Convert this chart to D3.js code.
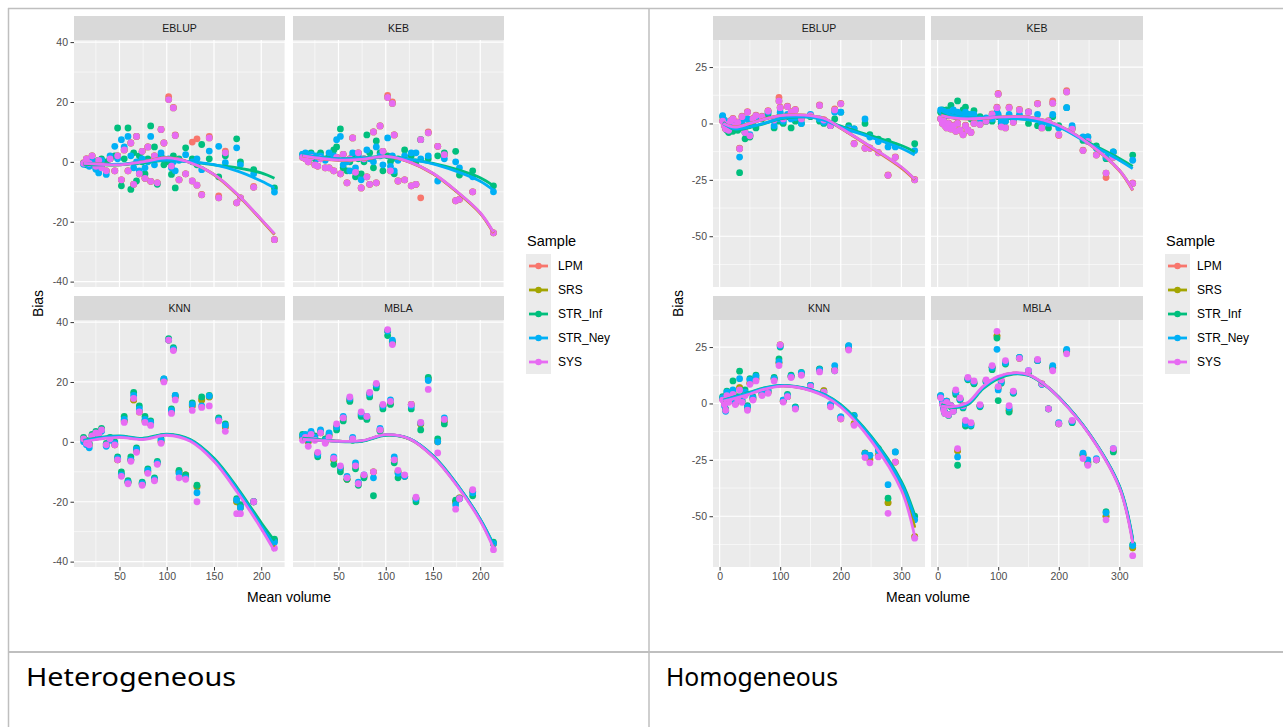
<!DOCTYPE html>
<html>
<head>
<meta charset="utf-8">
<script src="https://cdn.jsdelivr.net/npm/d3@7"></script>
<style>
  html, body { margin: 0; padding: 0; background: #ffffff; }
  svg { display: block; }
</style>
</head>
<body>
<div id="chart"></div>
<script>
// ---- data ----------------------------------------------------------------
const SAMPLES = ['LPM', 'SRS', 'STR_Inf', 'STR_Ney', 'SYS'];
const SAMPLE_COLORS = ['#F8766D', '#A3A500', '#00BF7D', '#00B0F6', '#E76BF3'];
const METHODS = ['EBLUP', 'KEB', 'KNN', 'MBLA'];
const CAPTIONS = ['Heterogeneous', 'Homogeneous'];

// Heterogeneous population: mean volume of each area
const HET_VOLUME = [12, 15, 18, 21, 25, 28, 31, 36, 40, 45, 48, 52, 55, 59, 62, 65, 68, 71, 74, 77, 80,
  83, 87, 90, 94, 97, 102, 105, 107, 109, 113, 120, 127, 132, 137, 145, 155, 162, 174, 178, 192, 214];
// bias per area, columns: LPM, SRS, STR_Inf, STR_Ney, SYS
const HET_EBLUP = [
  [-0.3, -0.4, -0.5, -0.8, -0.5], [1, 1, -1, 0, 1], [-0.3, -0.4, 0, -1.5, -0.5], [2, 2, 1, 0.5, 2],
  [-1.3, -1.4, -2, -2.5, -1.5], [0.5, 0.5, 0.5, -3.7, 0.5], [-1.8, -1.9, 1, 0.5, -2], [-3, -3, 0, -4.2, -3],
  [1, 1, 1, 2, 1], [-3, -3, 2, 5.2, -3], [2, 2, 11.3, 1, 2], [-6, -6, -8, 7.4, -6],
  [4, 4, 1, 5, 4], [-3, -3, 11.3, 8.5, -3], [6.3, 6.3, -9.2, 2, 6.3], [-7.5, -7.5, 3, -2, -7.5],
  [8.5, 8.5, -6.4, 0, 8.5], [-4, -4, 2, -3, -4], [3.5, 3.5, 0, 1, 3.5], [-5.5, -5.5, -4, -2, -5.5],
  [5, 5, 1, 0, 5], [-6.5, -6.5, 12, 8.5, -6.5], [2, 2, 5, -1, 2], [-7, -7, -7.5, 1, -7],
  [10.8, 10.8, 2, 3, 10.8], [6.3, 6.3, -1, 1, 6.3], [21.8, 20.8, 0, 1, 20.8], [-1.4, -1.4, -4.2, -2, -1.4],
  [18.2, 18, 2, 0, 18], [9, 8.8, -8.7, -3, 8.8], [-6, -6, 1, 0.5, -6], [-4, -4, 4.7, 2.4, -4],
  [6.6, -6.4, 1, 0, -6.4], [7.7, -7.8, -1, 1, -7.8], [-10.9, -11, 5.8, -2.6, -11], [8.5, 8, 1, 3.6, 8],
  [-11.4, -12, -5, 5.2, -12], [3.6, 3, 2, -0.3, 3], [-13.7, -13.7, 7.7, 4.7, -13.7], [-12, -12, 0, -1, -12],
  [-8.2, -8.5, -2.6, -4, -8.5], [-26, -26, -8.7, -10.1, -26]
];
const HET_KEB = [
  [1.5, 1.5, 2.5, 2.5, 1.5], [1, 1, 2, 3, 1], [0, 0, 2, 2, 0], [1.5, 1.5, 3, 2.5, 1.5],
  [-1, -1, 1, 2, -1], [-1.4, -1.4, 2, 1, -1.4], [1, 1, 3, 2, 1], [-2, -2, 1, 0.5, -2],
  [-2, -2, 2, 3, -2], [-3, -3, 4, 2, -3], [1.5, 1.5, 5, 7.4, 1.5], [-4, -4, 11, 8.5, -4],
  [2.5, 2.5, -2, -1, 2.5], [-7, -7, -3, 0, -7], [1, 1, 0, -3, 1], [8, 8, 2, 3, 8],
  [-3.5, -3.5, -5, -2, -3.5], [3, 3, 1, 2, 3], [-8.7, -8.7, -4, -6, -8.7], [1, 1, 0, 1, 1],
  [-5, -5, 9, 4, -5], [-7.5, -7.5, 3, 1, -7.5], [10, 10, -2, 0, 10], [-7, -7, 7, 5, -7],
  [12, 12, 3, 2, 12], [3.5, 3.5, -3, -1, 3.5], [22.2, 21.5, 2, 8, 21.5], [-3, -3, 0, -1.5, -3],
  [20, 19.5, 1, 2, 19.5], [9, 9, -4, -3, 9], [-6.4, -6.4, 1, 0.5, -6.4], [-6, -6, 4, 2, -6],
  [-8, -8, 2, 3, -8], [-7.5, -7.5, 0, 3, -7.5], [-12, 7.4, 7.4, 1, 7.4], [10, 9.7, 1, 2, 9.7],
  [5.2, 5.2, 2, -6.4, 5.2], [2.4, 2.4, 3, 1, 2.4], [-13, -13, 3.5, 0, -13], [-12.5, -12.5, -4.4, -2, -12.5],
  [-10, -10, -3, -5, -10], [-23.7, -23.7, -8, -10, -23.7]
];
const HET_KNN = [
  [1, 1, 1.5, 0, 1], [0, 0, 0.5, -1, -0.5], [-1, -1, -0.5, -2, -1], [2, 2, 2.5, 1.5, 2],
  [3, 3, 3.5, 2.5, 3], [2.5, 2.5, 3, 2, 2.5], [4, 4, 4.5, 3.5, 4], [-1, -1, -0.5, -1.5, -1],
  [1, 1, 1.5, 0.5, 1], [-1, -1, 0, -0.5, -1], [-6, -6, -5, -5.5, -6], [-11, -11, -10, -11, -11.5],
  [7, 7, 8.5, 7.5, 6.5], [-13.5, -13.5, -13, -13.5, -14], [-6, -6, -5, -6, -6.5], [14, 14, 16.5, 15.5, 14.5],
  [-3, -3, -2, -2.5, -3.5], [10, 10, 12, 11, 10], [-14, -14, -13.5, -14, -14.5], [7, 7, 8.5, 7.5, 6.5],
  [-10, -10, -9, -9.5, -10.5], [6, 6, 7, 6.5, 5.5], [-12.5, -12.5, -12, -12.5, -13], [-7, -7, -6.5, -7, -7.5],
  [0, 0, 1, 0.5, -0.5], [20.5, 20.5, 21, 21, 20], [34, 34, 34.5, 34, 34], [10, 10, 11, 10.5, 9.5],
  [31, 31, 31.5, 31, 30.5], [15, 15, 15.5, 15.5, 14], [-10, -10, -9.5, -10.5, -12], [-11, -11, -11, -12, -12.5],
  [12, 12, 13, 12.5, 10.5], [-15, -15, -14.5, -17, -20], [14, 14, 15, 12, 11.5], [15, 15, 15.5, 15.3, 12],
  [7.5, 7.5, 8, 7.5, 7], [5, 5, 6, 5.5, 3.5], [-20, -20, -19, -19.5, -24], [-22, -22, -21, -22, -24],
  [-20, -20, -20, -20, -20], [-33, -33, -32.5, -33.5, -35.5]
];
const HET_MBLA = [
  [1.5, 1.5, 2.5, 2, 0.5], [2, 2, 1.5, 2.5, 1.5], [0, 0, 0.5, 1, -1.5], [2.5, 2.5, 3, 3.5, 2.5],
  [1, 1, 2, 1.5, 0.5], [-4, -4, -5, -4.2, -3.5], [3, 3, 3.5, 4, 3], [0, 0, 1, 0.5, -0.5],
  [2, 2, 2.5, 3, 1.5], [-6, -6, -7.5, -5, -5.5], [5, 5, 4, 5, 6], [-9, -9, -10, -8.5, -8],
  [8, 8, 7, 8.5, 8], [-12.5, -12.5, -12.5, -11.5, -12], [14, 14, 13.5, 14.5, 15], [1, 1, 0.5, 1.5, 1],
  [-8, -8, -9, -7, -8], [-14, -14, -14.5, -13.5, -14], [9, 9, 8.5, 9.5, 10], [-11.5, -11.5, -12, -11, -11],
  [8, 8, 7.5, 8.5, 8.5], [16, 16, 15, 16, 16.5], [-10, -10, -18, -12, -10], [19, 19, 18, 19, 19.5],
  [4, 4, 3.5, 4.5, 4], [12, 12, 11, 12, 12.5], [37, 37, 35.5, 37, 37.5], [13, 13, 12.5, 14, 13.5],
  [33, 33, 33.5, 34, 32.5], [-6, -6, -7, -5, -6], [-10, -10, -12, -10.5, -9.5], [-11.5, -11.5, -11.5, -11.5, -11],
  [12.5, 12.5, 11, 12, 12.5], [-19, -19, -20, -19, -18.5], [6, 6, 4, 6.3, 6.5], [21, 21, 21.5, 20.5, 17.5],
  [0, 0, 1, 0, -3.7], [7, 7, 6, 8, 7.5], [-20, -20, -19.5, -21, -22.5], [-18.7, -18.7, -19, -19, -19],
  [-16.5, -16.5, -18, -17, -16], [-34, -34, -33.5, -34, -36]
];
// smoothed trend (loess) read at these volumes, one row per sample
const HET_SMOOTH_VOLUME = [12, 30, 50, 75, 100, 125, 150, 175, 200, 214];
const HET_SMOOTH_EBLUP = [
  [-0.4, -0.7, -0.9, 0.1, 1.4, -0.2, -4.3, -11.1, -19.4, -24.3],
  [-0.5, -0.8, -1, 0, 1.3, -0.3, -4.2, -11, -19.3, -24.2],
  [-0.8, -1, -1, -0.3, 0.5, 0, -1, -2, -3.7, -5.5],
  [-0.5, -0.8, -0.8, 0, 0.6, 0, -0.9, -3.1, -6.4, -8.7],
  [-0.5, -0.8, -1, 0, 1.3, -0.3, -4.2, -10.9, -19.2, -24]
];
const HET_SMOOTH_KEB = [
  [2.1, 1.1, 0.5, 0.8, 1.8, -0.1, -4, -10, -17.2, -23.8],
  [2, 1.2, 0.6, 0.8, 1.7, 0, -3.9, -9.9, -17.1, -23.6],
  [2.4, 1.5, 1, 1.3, 1.8, 0.9, -0.5, -2.5, -5.3, -8],
  [2.4, 1.5, 1, 1.2, 1.7, 0.8, -0.7, -3.2, -6.5, -9.5],
  [2, 1.2, 0.6, 0.8, 1.8, 0, -3.8, -9.8, -17, -23.5]
];
const HET_SMOOTH_KNN = [
  [0.2, 1.2, 1.7, 1, 2.4, 0.5, -6.2, -16.5, -28.5, -35],
  [0.2, 1.2, 1.7, 1, 2.4, 0.5, -6.2, -16.4, -28.4, -35],
  [0.5, 1.5, 2, 1.2, 2.6, 0.8, -5.5, -15.5, -27, -33],
  [0.3, 1.3, 1.8, 1, 2.4, 0.5, -6, -16, -28, -34.5],
  [0, 1, 1.5, 0.8, 2.2, 0.2, -6.5, -17, -29, -36.5]
];
const HET_SMOOTH_MBLA = [
  [1, 0.6, 0.2, 0.3, 2.3, 1, -4.8, -14.2, -26, -34.8],
  [1, 0.6, 0.2, 0.3, 2.3, 1, -4.8, -14.2, -26, -34.8],
  [1.2, 0.7, 0.1, 0.2, 2.2, 1, -4.6, -14, -25.8, -34.2],
  [1, 0.6, 0.2, 0.3, 2.3, 1.1, -4.7, -14.1, -25.9, -34.5],
  [0.8, 0.5, 0.2, 0.4, 2.4, 1, -5, -14.5, -26.4, -35.5]
];

// Homogeneous population
const HOM_VOLUME = [5, 8, 10, 12, 15, 18, 22, 26, 30, 33, 37, 42, 46, 50, 55, 60, 70, 80, 90, 98,
  100, 105, 112, 118, 125, 135, 150, 165, 172, 183, 190, 200, 213, 222, 240, 248, 262, 278, 290, 322];
const HOM_EBLUP = [
  [1.2, 1, 3, 3.5, 1], [-0.8, -1, 1, 1.5, -1], [-2.3, -2.5, -2, -1, -2.5], [-0.3, -0.5, -3, 0, -0.5],
  [-2.8, -3, -4, -2, -3], [1.2, 1, -1, -0.5, 1], [2.2, 2, -3.5, 0, 2], [-0.8, -1, -2.5, -1.5, -1],
  [0.7, 0.5, -3, -1, 0.5], [-11, -11.2, -21.8, -14.9, -11.2], [3.2, 3, -1, 1, 3], [-3.8, -4, -6.8, -4, -4],
  [5.2, 5, -1, 2, 5], [-5.3, -5.5, -6, -5, -5.5], [2.2, 2, 0, 1, 2], [3.7, 3.5, -2, 2, 3.5],
  [3.2, 3, 2, 2.5, 3], [5.7, 5.5, 4, 5, 5.5], [1.7, 1.5, -2, -1, 1.5], [11.5, 10, 1, 2, 10],
  [7.2, 7, 4, 5, 7], [2.2, 2, 0, 1, 2], [7.7, 7.5, 3, 4, 7.5], [5.2, 5, -2, 2, 5],
  [6.2, 6, 1, 2.5, 6], [2.2, 2, 0, 0, 2], [3.7, 3.5, 3, 4, 3.5], [8.2, 8, 1, 2, 8],
  [1.7, 1.5, 0, 0.5, 1.5], [-0.8, -1, -1, 0, -1], [6.5, 6, 2, 5, 6], [8.9, 8.7, 5, 5, 8.7],
  [-3.2, -3, -1, -2, -3], [-8.8, -9, -2.4, -2.4, -9], [-10.8, -11, 0, 2, -11], [-10.8, -11, -5, -6, -11],
  [-12.8, -13, -7, -8, -13], [-22.8, -23, -8, -10.4, -23], [-14.8, -15, -10, -10.4, -15], [-24.8, -25, -9, -12, -25]
];
const HOM_KEB = [
  [2.2, 2, 5, 6, 2], [0.2, 0, 6, 5, 0], [1.2, 1, 4, 5.5, 1], [-0.8, -1, 5, 4, -1],
  [-1.8, -2, 6, 3.5, -2], [0.2, 0, 4, 5, 0], [-2.3, -2.5, 8, 4, -2.5], [-0.8, -1, 5, 6, -1],
  [-3.3, -3.5, 4, 3, -3.5], [0.2, 0, 10, 5, 0], [-2.8, -3, 3, 4, -3], [-4.8, -5, 6, 3, -5],
  [-0.8, -1, 7.2, 5, -1], [-2.8, -3, 4, 3.5, -3], [-3.8, -4, 2, 4, -4], [0.2, 0, 5.7, 4, 0],
  [-0.3, -0.5, 3, 2, -0.5], [1.2, 1, 1, 2.5, 1], [4.2, 4, 1, 2, 4], [7.2, 7, 4, 5, 7],
  [13.3, 13, 3, 4, 13], [-1.3, -1.5, 0, 1, -1.5], [-1.8, -2, 1, 1, -2], [7.2, 7, 3, 4, 7],
  [0.7, 0.5, 2, 2, 0.5], [6.2, 6, 3, 4, 6], [5.2, 5, 0, 5, 5], [8.9, 8.7, -1, 4, 8.7],
  [-1.8, -2, -1.5, 0, -2], [1.2, 1, -2, 0, 1], [10, 9, 3, 4, 9], [-5.3, -5, -1, -2, -5],
  [14.5, 14, 7, 7, 14], [-2.3, -2.5, -2, -1, -2.5], [-11.8, -12, -7.5, -6, -12], [-7.8, -8, -6, -6, -8],
  [-13.8, -14, -10, -11, -14], [-24, -22, -15.6, -15, -22], [-14.8, -15, -12.6, -12.6, -15], [-26.4, -26.6, -14, -16.3, -26.6]
];
const HOM_KNN = [
  [2, 2, 3, 2.5, 1.5], [0, 0, 1, -1, -0.5], [-3, -3, -2.5, -3.5, -3], [4, 4, 5.5, 5, 3.5],
  [1, 1, 2, 1.5, 0.5], [3, 3, 4, 3, 2.5], [5, 5, 10, 6, 4], [0, 0, 1, 0.5, -0.5],
  [2, 2, 3, 2.5, 1.5], [7, 7, 14.3, 11, 6], [1, 1, 2, 1, 0.5], [4, 4, 6, 5, 3.5],
  [-2, -2, -1, -1.5, -3], [9, 9, 11, 10.5, 8.5], [2, 2, 3, 2.5, 1.5], [11, 11, 12.5, 12, 10],
  [4, 4, 5, 4.5, 3.5], [5, 5, 6, 5.5, 4.5], [11, 11, 11.5, 11, 10], [18, 18, 19.7, 18.5, 16.8],
  [26, 26, 25, 25.5, 26], [1, 1, 1.5, 1.5, 0.6], [3, 3, 4, 3.5, 3], [12, 12, 12.5, 12, 11.5],
  [-2, -2, -1.5, -2, -2.5], [13, 13, 13.8, 13.5, 12.5], [8, 8, 8, 8, 7.5], [15, 15, 15.3, 15, 14],
  [5.7, 5.7, 5, 5, 5], [-1, -1, -0.5, -0.5, -1.5], [15, 15, 14.5, 16.8, 14.5], [-6.8, -6.8, -6, -6, -6.8],
  [24.5, 24.5, 25.5, 25.6, 23.7], [-9, -9, -5.3, -5.5, -9.7], [-22, -22, -22, -22.2, -24], [-25, -25, -23, -23, -26.3],
  [-23, -23, -20, -21, -23.7], [-44, -44, -42, -36, -48.7], [-26, -26, -21.5, -21.5, -26], [-59, -59, -50, -51.6, -59.7]
];
const HOM_MBLA = [
  [3, 3, 3.5, 3.5, 2.5], [0, 0, 0.5, 1, -0.5], [-2, -2, -2.5, -2, -3], [-4, -4, -4.5, -4, -4.5],
  [1, 1, 0.5, 1, 0.5], [-5, -5, -5.3, -5, -5], [-1, -1, -1.5, -1, -1], [-3, -3, -3.5, -3, -3.5],
  [5, 5, 4, 5, 6], [-21, -21, -27.4, -23.7, -20], [2, 2, 1.5, 2, 2.5], [-1, -1, -2, -1.5, -1],
  [-8, -8, -10, -9, -7.5], [11, 11, 10.5, 11, 11.6], [-9, -9, -10, -9.5, -8.5], [9, 9, 8.7, 9.5, 10],
  [-1, -1, -1.5, -1, -0.5], [10, 10, 9.5, 10, 10.5], [16, 16, 15, 16, 16.8], [30, 30, 29, 24, 32],
  [7, 7, 1.3, 6, 7.5], [10, 10, 9, 9.5, 10.5], [18, 18, 17.5, 18, 19], [-3, -3, -3.8, -2, -1],
  [5, 5, 4.5, 5, 5.5], [20, 20, 20.4, 20.4, 20], [14, 14, 14, 14.5, 14.5], [19, 19, 19, 19, 19.5],
  [8.7, 8.7, 8.5, 8.5, 8.7], [-2.4, -2.4, -2.4, -2.4, -2.4], [16, 16, 15.5, 16.8, 14.5], [-9, -9, -9, -8.5, -9],
  [23, 23, 23.5, 24, 22], [-8, -8, -8.5, -8, -7.5], [-23, -23, -22.5, -22, -24.4], [-26, -26, -27, -25, -27.4],
  [-25, -25, -25, -24.5, -25], [-50, -50, -48, -48.5, -51.6], [-21, -21, -21.5, -20, -20], [-64, -64, -62.6, -63, -67.5]
];
const HOM_SMOOTH_VOLUME = [6, 25, 50, 75, 100, 125, 150, 175, 200, 250, 300, 322];
const HOM_SMOOTH_EBLUP = [
  [0, -1.5, 0, 2, 3.6, 3.8, 3.4, 1.8, -2.2, -10.8, -19.8, -25],
  [0, -1.6, 0, 2, 3.5, 3.8, 3.5, 2, -2, -10.5, -19.5, -24.8],
  [0.5, -2.8, -1.8, 0, 2, 2.8, 2.8, 1.5, -1.2, -5.5, -9.8, -12.5],
  [0, -2.4, -1.5, 0.2, 2.2, 3, 2.8, 1.2, -1.6, -6.2, -11, -14],
  [0, -1.6, 0, 2, 3.5, 3.8, 3.5, 2, -2, -10.4, -19.3, -24.7]
];
const HOM_SMOOTH_KEB = [
  [3.6, 2.5, 2, 2.3, 2.8, 3, 2.8, 1.4, -1, -9.2, -21, -29.8],
  [3.5, 2.5, 2, 2.3, 2.8, 3, 2.8, 1.5, -0.9, -9, -20.7, -29.5],
  [5, 3.5, 2.5, 2.5, 2.8, 2.3, 1.8, 0.5, -1.4, -8.5, -15.5, -19],
  [5.7, 3.5, 2.5, 2.6, 2.8, 2.2, 1.6, 0.3, -1.6, -9, -16.3, -20],
  [3.5, 2.5, 2, 2.3, 2.8, 3, 2.8, 1.5, -0.9, -9, -20.7, -29.5]
];
const HOM_SMOOTH_KNN = [
  [1.2, 2.6, 4.5, 6.6, 7.8, 7.4, 5.9, 3.3, -1.2, -15.8, -37, -55],
  [1.2, 2.6, 4.5, 6.6, 7.8, 7.4, 5.9, 3.3, -1.2, -15.7, -36.8, -55],
  [1.5, 3, 5, 7, 8, 7.6, 6.2, 3.8, -0.5, -14.5, -34.5, -49.5],
  [1.3, 2.8, 4.7, 6.8, 7.9, 7.5, 6, 3.5, -0.9, -15, -35.5, -51],
  [1, 2.3, 4.2, 6.4, 7.6, 7.3, 5.7, 3, -1.6, -16.5, -38.5, -59]
];
const HOM_SMOOTH_MBLA = [
  [-1, -1.6, 0, 7.2, 11.6, 13.4, 12.6, 8.7, 2.8, -13.4, -37, -61],
  [-1, -1.6, 0, 7.2, 11.6, 13.4, 12.6, 8.7, 2.8, -13.4, -37, -61],
  [-0.5, -1.8, -0.5, 6.5, 11, 13, 12.4, 8.6, 2.8, -13.2, -36.5, -60],
  [-1, -1.6, 0, 7, 11.5, 13.3, 12.6, 8.7, 2.8, -13.3, -36.8, -60.5],
  [-1.2, -1.4, 0.5, 7.6, 12, 13.6, 12.8, 8.8, 2.6, -13.6, -37.4, -62]
];

// axis settings
const HET_X_TICKS = [50, 100, 150, 200];
const HET_Y_TICKS = [-40, -20, 0, 20, 40];
const HOM_X_TICKS = [0, 100, 200, 300];
const HOM_Y_TICKS = [-50, -25, 0, 25];

// ---- drawing -------------------------------------------------------------
const WIDTH = 1283;
const HEIGHT = 727;
const FONT = '"Liberation Sans", Arial, sans-serif';

const plots = [
  {
    caption: CAPTIONS[0],
    volume: HET_VOLUME,
    bias: [HET_EBLUP, HET_KEB, HET_KNN, HET_MBLA],
    smoothVolume: HET_SMOOTH_VOLUME,
    smooth: [HET_SMOOTH_EBLUP, HET_SMOOTH_KEB, HET_SMOOTH_KNN, HET_SMOOTH_MBLA],
    xDomain: [1.85, 225.15],
    yDomain: [-41.8, 40.7],
    xTicks: HET_X_TICKS,
    yTicks: HET_Y_TICKS,
    layout: { cols: [[74, 285], [293, 504]], biasX: 38, legendX: 527, captionX: 26, captionW: 210 }
  },
  {
    caption: CAPTIONS[1],
    volume: HOM_VOLUME,
    bias: [HOM_EBLUP, HOM_KEB, HOM_KNN, HOM_MBLA],
    smoothVolume: HOM_SMOOTH_VOLUME,
    smooth: [HOM_SMOOTH_EBLUP, HOM_SMOOTH_KEB, HOM_SMOOTH_KNN, HOM_SMOOTH_MBLA],
    xDomain: [-10.9, 339],
    yDomain: [-72.5, 37],
    xTicks: HOM_X_TICKS,
    yTicks: HOM_Y_TICKS,
    layout: { cols: [[713, 925], [931, 1143]], biasX: 678, legendX: 1166, captionX: 666, captionW: 172 }
  }
];

const ROWS = [[40, 287], [320, 567]];
const STRIP_H = 24;

const svg = d3.select('#chart')
  .append('svg')
  .attr('width', WIDTH)
  .attr('height', HEIGHT)
  .style('font-family', FONT);

// table grid round the two cells
const borderColor = '#BFBFBF';
svg.append('line').attr('x1', 8).attr('x2', WIDTH).attr('y1', 8.5).attr('y2', 8.5)
  .attr('stroke', borderColor).attr('stroke-width', 1.5);
svg.append('line').attr('x1', 8.5).attr('x2', 8.5).attr('y1', 8).attr('y2', HEIGHT)
  .attr('stroke', borderColor).attr('stroke-width', 1.5);
svg.append('line').attr('x1', 649).attr('x2', 649).attr('y1', 8).attr('y2', HEIGHT)
  .attr('stroke', borderColor).attr('stroke-width', 1.5);
svg.append('line').attr('x1', 8).attr('x2', WIDTH).attr('y1', 652).attr('y2', 652)
  .attr('stroke', borderColor).attr('stroke-width', 2);

function minorBreaks(ticks) {
  const step = ticks[1] - ticks[0];
  const out = [ticks[0] - step / 2];
  ticks.forEach(t => out.push(t + step / 2));
  return out;
}

function drawPlot(cfg) {
  const g = svg.append('g');
  const { cols, biasX, legendX, captionX, captionW } = cfg.layout;
  const xMinor = minorBreaks(cfg.xTicks);
  const yMinor = minorBreaks(cfg.yTicks);

  METHODS.forEach((method, m) => {
    const col = cols[m % 2];
    const row = ROWS[Math.floor(m / 2)];
    const x = d3.scaleLinear().domain(cfg.xDomain).range(col);
    const y = d3.scaleLinear().domain(cfg.yDomain).range([row[1], row[0]]);
    const panel = g.append('g');

    panel.append('rect')
      .attr('x', col[0]).attr('y', row[0])
      .attr('width', col[1] - col[0]).attr('height', row[1] - row[0])
      .attr('fill', '#EBEBEB');

    // grid
    const inX = v => v > cfg.xDomain[0] && v < cfg.xDomain[1];
    const inY = v => v > cfg.yDomain[0] && v < cfg.yDomain[1];
    panel.selectAll('.vminor').data(xMinor.filter(inX)).enter().append('line')
      .attr('x1', d => x(d)).attr('x2', d => x(d)).attr('y1', row[0]).attr('y2', row[1])
      .attr('stroke', '#fff').attr('stroke-width', 0.6);
    panel.selectAll('.hminor').data(yMinor.filter(inY)).enter().append('line')
      .attr('y1', d => y(d)).attr('y2', d => y(d)).attr('x1', col[0]).attr('x2', col[1])
      .attr('stroke', '#fff').attr('stroke-width', 0.6);
    panel.selectAll('.vmajor').data(cfg.xTicks.filter(inX)).enter().append('line')
      .attr('x1', d => x(d)).attr('x2', d => x(d)).attr('y1', row[0]).attr('y2', row[1])
      .attr('stroke', '#fff').attr('stroke-width', 1.2);
    panel.selectAll('.hmajor').data(cfg.yTicks.filter(inY)).enter().append('line')
      .attr('y1', d => y(d)).attr('y2', d => y(d)).attr('x1', col[0]).attr('x2', col[1])
      .attr('stroke', '#fff').attr('stroke-width', 1.2);

    // strip
    panel.append('rect')
      .attr('x', col[0]).attr('y', row[0] - STRIP_H)
      .attr('width', col[1] - col[0]).attr('height', STRIP_H)
      .attr('fill', '#D9D9D9');
    panel.append('text')
      .attr('x', (col[0] + col[1]) / 2).attr('y', row[0] - STRIP_H / 2)
      .attr('dy', '0.36em').attr('text-anchor', 'middle')
      .attr('font-size', '10.5px').attr('fill', '#1A1A1A')
      .text(method);

    // points, one layer per sample
    const rows = cfg.bias[m];
    SAMPLES.forEach((s, si) => {
      panel.append('g').selectAll('circle')
        .data(cfg.volume.map((v, i) => [v, rows[i][si]]))
        .enter().append('circle')
        .attr('cx', d => x(d[0]))
        .attr('cy', d => y(d[1]))
        .attr('r', 3.4)
        .attr('fill', SAMPLE_COLORS[si]);
    });

    // smoothed trends
    const line = d3.line()
      .x(d => x(d[0])).y(d => y(d[1]))
      .curve(d3.curveCatmullRom.alpha(0.5));
    SAMPLES.forEach((s, si) => {
      panel.append('path')
        .datum(cfg.smoothVolume.map((v, i) => [v, cfg.smooth[m][si][i]]))
        .attr('d', line)
        .attr('fill', 'none')
        .attr('stroke', SAMPLE_COLORS[si])
        .attr('stroke-width', 2.8);
    });

    // axes on the outer panels
    const fmt = d => String(d);
    if (m % 2 === 0) {
      const ax = panel.append('g')
        .attr('transform', `translate(${col[0]},0)`)
        .call(d3.axisLeft(y).tickValues(cfg.yTicks).tickSize(3.5).tickPadding(2.5).tickFormat(fmt));
      styleAxis(ax);
    }
    if (m >= 2) {
      const ax = panel.append('g')
        .attr('transform', `translate(0,${row[1]})`)
        .call(d3.axisBottom(x).tickValues(cfg.xTicks).tickSize(3.5).tickPadding(2).tickFormat(fmt));
      styleAxis(ax);
    }
  });

  // axis titles
  g.append('text')
    .attr('x', (cols[0][0] + cols[1][1]) / 2).attr('y', 597)
    .attr('dy', '0.36em').attr('text-anchor', 'middle')
    .attr('font-size', '14px').attr('fill', '#000')
    .text('Mean volume');
  g.append('text')
    .attr('transform', `translate(${biasX},${(ROWS[0][0] + ROWS[1][1]) / 2}) rotate(-90)`)
    .attr('dy', '0.36em').attr('text-anchor', 'middle')
    .attr('font-size', '14px').attr('fill', '#000')
    .text('Bias');

  // legend
  const legend = g.append('g').attr('transform', `translate(${legendX},0)`);
  legend.append('text')
    .attr('x', 0).attr('y', 241).attr('dy', '0.36em')
    .attr('font-size', '14.5px').attr('fill', '#000')
    .text('Sample');
  SAMPLES.forEach((s, si) => {
    const cy = 266 + si * 24;
    legend.append('rect')
      .attr('x', -1).attr('y', cy - 12).attr('width', 25).attr('height', 24)
      .attr('fill', '#EBEBEB');
    legend.append('line')
      .attr('x1', 2).attr('x2', 21).attr('y1', cy).attr('y2', cy)
      .attr('stroke', SAMPLE_COLORS[si]).attr('stroke-width', 2.8);
    legend.append('circle')
      .attr('cx', 11.5).attr('cy', cy).attr('r', 3.2)
      .attr('fill', SAMPLE_COLORS[si]);
    legend.append('text')
      .attr('x', 31).attr('y', cy).attr('dy', '0.36em')
      .attr('font-size', '12px').attr('fill', '#000')
      .text(s);
  });

  // caption cell below the figure
  g.append('text')
    .attr('x', captionX).attr('y', 686)
    .attr('font-family', '"Noto Sans", "Open Sans", sans-serif')
    .attr('font-size', '26px').attr('fill', '#000')
    .attr('textLength', captionW).attr('lengthAdjust', 'spacingAndGlyphs')
    .text(cfg.caption);
}

function styleAxis(ax) {
  ax.select('.domain').remove();
  ax.selectAll('.tick line').attr('stroke', '#333333').attr('stroke-width', 1);
  ax.selectAll('.tick text')
    .attr('fill', '#4D4D4D')
    .attr('font-size', '10.5px')
    .attr('font-family', FONT);
}

plots.forEach(drawPlot);
</script>
</body>
</html>
